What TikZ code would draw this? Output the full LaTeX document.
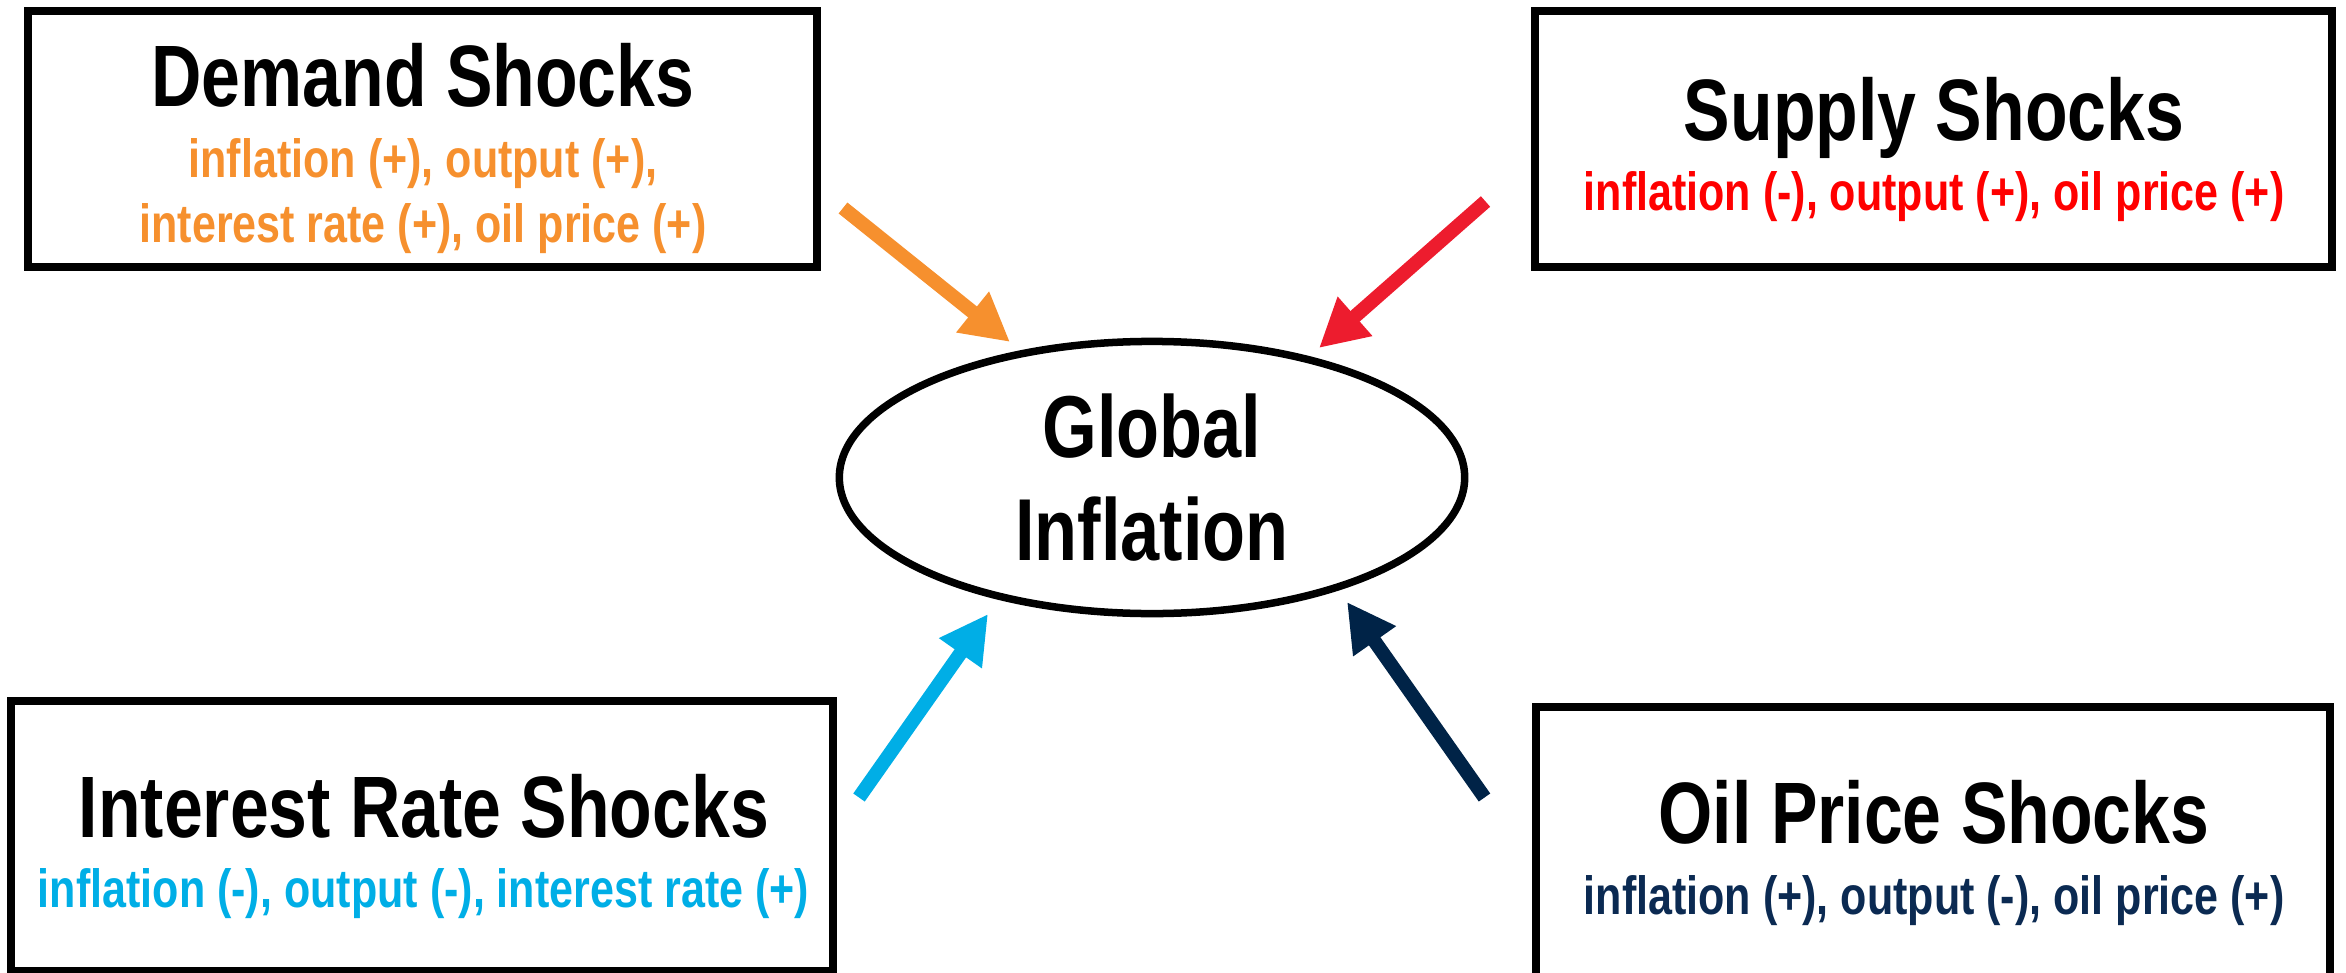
\documentclass[tikz,border=0pt]{standalone}
\usepackage{fontspec}
\setmainfont{Liberation Sans}[FakeStretch=0.80]
\usetikzlibrary{shapes.geometric,arrows.meta}
\definecolor{dorange}{HTML}{F6902E}
\definecolor{sred}{HTML}{ED1C2E}
\definecolor{sredtxt}{HTML}{FF0000}
\definecolor{iblue}{HTML}{00AEE6}
\definecolor{onavy}{HTML}{002347}
\definecolor{onavytxt}{HTML}{0B2A52}
\begin{document}
\begin{tikzpicture}[x=0.01cm,y=-0.01cm,
  shockbox/.style={draw=black, line width=0.08cm, rectangle, inner sep=0pt},
  headtxt/.style={anchor=base, inner sep=0pt, font=\fontsize{24.8}{29}\selectfont\bfseries},
  subtxt/.style={anchor=base, inner sep=0pt, font=\fontsize{15.3}{18.5}\selectfont\bfseries},
  centretxt/.style={font=\fontsize{25}{29.3}\selectfont\bfseries, align=center},
  shockarrow/.style={line width=0.14cm, -{Triangle[length=0.48cm,width=0.49cm]}}]
\useasboundingbox (0,0) rectangle (2346,973);
\clip (0,0) rectangle (2346,973);

% boxes
\node[shockbox, minimum width=7.89cm, minimum height=2.56cm] (demand) at (422.5,139) {};
\node[shockbox, minimum width=7.97cm, minimum height=2.56cm] (supply) at (1933.5,139) {};
\node[shockbox, minimum width=8.22cm, minimum height=2.70cm] (interest) at (422,836) {};
\node[shockbox, minimum width=7.94cm, minimum height=2.785cm] (oil) at (1933,846) {};

% texts
\node[headtxt] (demandH) at (423,107) {Demand Shocks};
\node[subtxt, text=dorange] (demandS1) at (423,177) {inflation (+), output (+),};
\node[subtxt, text=dorange] (demandS2) at (423,242) {interest rate (+), oil price (+)};

\node[headtxt] (supplyH) at (1934,140) {Supply Shocks};
\node[subtxt, text=sredtxt] (supplyS) at (1934,211) {inflation (-), output (+), oil price (+)};

\node[headtxt] (interestH) at (424,837) {Interest Rate Shocks};
\node[subtxt, text=iblue] (interestS) at (423.5,907) {inflation (-), output (-), interest rate (+)};

\node[headtxt] (oilH) at (1934,843) {Oil Price Shocks};
\node[subtxt, text=onavytxt] (oilS) at (1934,914) {inflation (+), output (-), oil price (+)};

% centre
\node[ellipse, draw=black, line width=0.075cm, inner sep=0pt,
      minimum width=6.25cm, minimum height=2.72cm, centretxt] (gi) at (1152,477.5) {Global\\Inflation};

% arrows
\coordinate (dT) at (843,208);   \coordinate (dH) at (1010,342);
\coordinate (sT) at (1485.5,201.5); \coordinate (sH) at (1319,348);
\coordinate (iT) at (859,797.5); \coordinate (iH) at (988,614);
\coordinate (oT) at (1484.5,797.5); \coordinate (oH) at (1347,602);
\draw[shockarrow, draw=dorange, fill=dorange] (dT) -- (dH);
\draw[shockarrow, draw=sred, fill=sred] (sT) -- (sH);
\draw[shockarrow, draw=iblue, fill=iblue] (iT) -- (iH);
\draw[shockarrow, draw=onavy, fill=onavy] (oT) -- (oH);
\end{tikzpicture}
\end{document}
